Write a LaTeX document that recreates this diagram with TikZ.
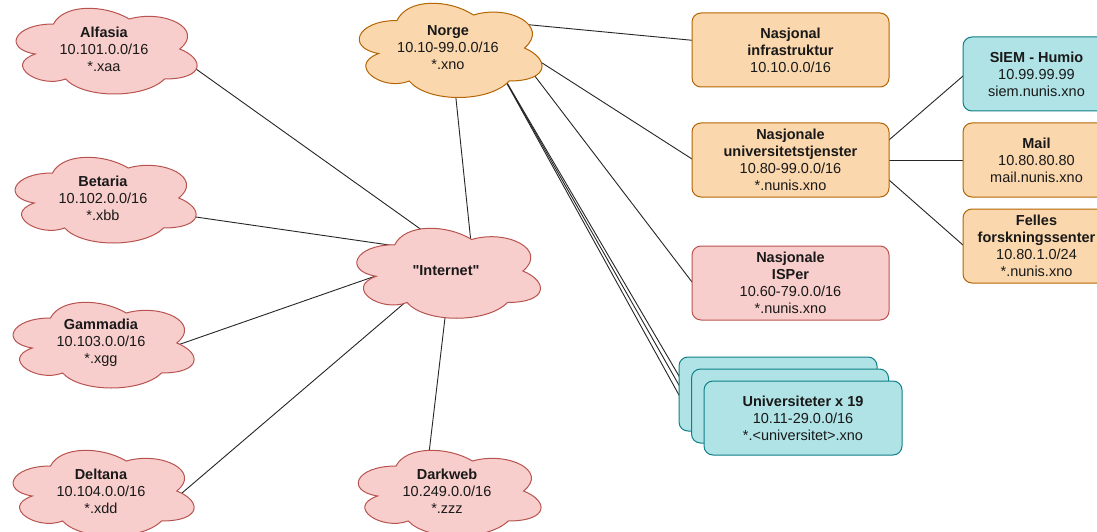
\documentclass[tikz,border=0pt]{standalone}
\usepackage{fontspec}
\setmainfont{Liberation Sans}
\usetikzlibrary{calc}
\pgfdeclarelayer{edgelayer}
\pgfdeclarelayer{cloudlayer}
\pgfsetlayers{edgelayer,cloudlayer,main}
\definecolor{orfill}{HTML}{FAD7AC}
\definecolor{ordraw}{HTML}{B46504}
\definecolor{pkfill}{HTML}{F8CECC}
\definecolor{pkdraw}{HTML}{B85450}
\definecolor{tlfill}{HTML}{B0E3E6}
\definecolor{tldraw}{HTML}{0E8088}
\definecolor{edgec}{HTML}{262626}
\newcommand\straightquote{\XeTeXglyph\XeTeXcharglyph"22\relax}
\tikzset{
  txt/.style={font=\fontsize{14.5}{17}\selectfont, align=center, inner sep=0pt, text=black!90},
  boxbase/.style={txt, draw, rounded corners=9pt, line width=1pt, minimum width=197pt, minimum height=74pt},
  orbox/.style={boxbase, fill=orfill, draw=ordraw},
  pkbox/.style={boxbase, fill=pkfill, draw=pkdraw},
  tlbox/.style={boxbase, fill=tlfill, draw=tldraw},
  pkcloud/.style={fill=pkfill, draw=pkdraw, line width=1pt},
  orcloud/.style={fill=orfill, draw=ordraw, line width=1pt},
  link/.style={draw=edgec, line width=0.9pt},
}
\newcommand\cloudshape[4]{%
  \begin{pgfonlayer}{cloudlayer}
  \begin{scope}[shift={(#1.center)}, x=#2pt, y=-#3pt, shift={(-0.5,-0.5)}]
    \draw[#4] (0.25,0.25) .. controls (0.05,0.25) and (0,0.5) .. (0.16,0.55)
      .. controls (0,0.66) and (0.18,0.9) .. (0.31,0.8)
      .. controls (0.4,1) and (0.7,1) .. (0.8,0.8)
      .. controls (1,0.8) and (1,0.6) .. (0.875,0.5)
      .. controls (1,0.3) and (0.8,0.1) .. (0.625,0.2)
      .. controls (0.5,0.05) and (0.3,0.05) .. (0.25,0.25) -- cycle;
  \end{scope}
  \end{pgfonlayer}}
\begin{document}
\begin{tikzpicture}[x=1pt, y=-1pt]
\begin{pgfonlayer}{edgelayer}
\fill[white] (0,0) rectangle (1097,532);
\end{pgfonlayer}
\useasboundingbox (0,0) rectangle (1097,532);

% clouds
\node[txt] (alf) at (104,49) {\textbf{Alfasia}\\10.101.0.0/16\\*.xaa};
\cloudshape{alf}{202}{100}{pkcloud}
\node[txt] (bet) at (103,198) {\textbf{Betaria}\\10.102.0.0/16\\*.xbb};
\cloudshape{bet}{202}{100}{pkcloud}
\node[txt] (gam) at (101,343) {\textbf{Gammadia}\\10.103.0.0/16\\*.xgg};
\cloudshape{gam}{202}{100}{pkcloud}
\node[txt] (del) at (101,491) {\textbf{Deltana}\\10.104.0.0/16\\*.xdd};
\cloudshape{del}{202}{100}{pkcloud}
\node[txt] (norge) at (448,48) {\textbf{Norge}\\10.10-99.0.0/16\\*.xno};
\cloudshape{norge}{204}{110}{orcloud}
\node[txt] (inet) at (446,271) {\textbf{\straightquote Internet\straightquote}};
\cloudshape{inet}{205}{105}{pkcloud}
\node[txt] (dark) at (447,491) {\textbf{Darkweb}\\10.249.0.0/16\\*.zzz};
\cloudshape{dark}{204}{100}{pkcloud}

% boxes
\node[orbox] (infra) at (790.5,50) {\textbf{Nasjonal}\\\textbf{infrastruktur}\\10.10.0.0/16};
\node[orbox] (univ) at (790.5,160) {\textbf{Nasjonale}\\\textbf{universitetstjenster}\\10.80-99.0.0/16\\*.nunis.xno};
\node[pkbox] (isp) at (790.5,283) {\textbf{Nasjonale}\\\textbf{ISPer}\\10.60-79.0.0/16\\*.nunis.xno};
\node[tlbox, minimum width=198pt] (back) at (778,394) {};
\node[tlbox] (mid) at (790,406) {};
\node[tlbox, minimum width=198pt] (front) at (803,418) {\textbf{Universiteter x 19}\\10.11-29.0.0/16\\*.<universitet>.xno};
\node[tlbox, minimum width=147pt] (siem) at (1036.5,74) {\textbf{SIEM - Humio}\\10.99.99.99\\siem.nunis.xno};
\node[orbox, minimum width=147pt] (mail) at (1036.5,160) {\textbf{Mail}\\10.80.80.80\\mail.nunis.xno};
\node[orbox, minimum width=147pt] (felles) at (1036.5,246) {\textbf{Felles}\\\textbf{forskningssenter}\\10.80.1.0/24\\*.nunis.xno};

% connectors (behind the shapes)
\begin{pgfonlayer}{edgelayer}
\draw[link] ($(alf)+(78,10)$) -- ($(inet)+(-6,-28)$);
\draw[link] ($(bet)+(79,17)$) -- ($(inet)+(-36,-23)$);
\draw[link] ($(gam)+(71,4)$) -- ($(inet)+(-56,0)$);
\draw[link] ($(del)+(74,8)$) -- ($(inet)+(-31,23)$);
\draw[link] ($(inet)+(1,30)$) -- ($(dark)+(-20,-21)$);
\draw[link] ($(norge)+(5,22)$) -- ($(inet)+(27,-9)$);
\draw[link] ($(norge)+(52,-26)$) -- ($(infra)+(-80.5,-8)$);
\draw[link] ($(norge)+(52,-12)$) -- ($(univ)+(-80.5,10.5)$);
\draw[link] ($(norge)+(67,2)$) -- ($(isp)+(-80.5,22.6)$);
\draw[link] ($(norge)+(51.5,22)$) -- ($(back)+(-88,21)$);
\draw[link] ($(norge)+(51.5,22)$) -- ($(mid)+(-90,16)$);
\draw[link] ($(norge)+(51.5,22)$) -- ($(front)+(-90,16)$);
\draw[link] ($(univ)+(79.5,-3.6)$) -- ($(siem)+(-56.5,-12.7)$);
\draw[link] ($(univ)+(79.5,0)$) -- ($(mail)+(-56.5,0)$);
\draw[link] ($(univ)+(79.5,3.3)$) -- ($(felles)+(-56.5,14)$);
\end{pgfonlayer}
\end{tikzpicture}
\end{document}
